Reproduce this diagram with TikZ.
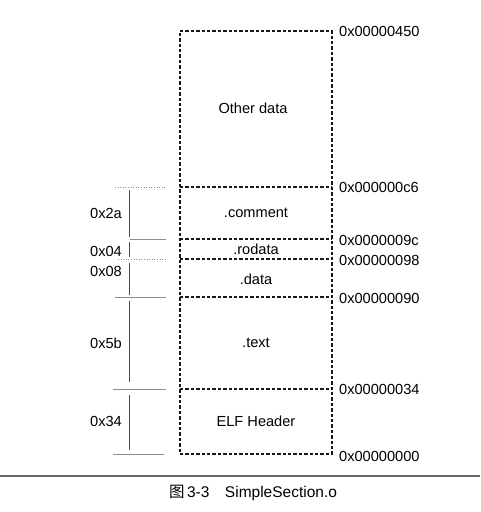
\documentclass[tikz,border=0pt]{standalone}
\usepackage{fontspec}
\setmainfont{Liberation Sans}
\newfontfamily\cjk{Noto Sans CJK SC}
\usepackage{tikz}
\usetikzlibrary{positioning}
\tikzset{
  % --- section contents and labels -------------------------------------------
  sec/.style={font=\fontsize{14.6}{16}\selectfont,inner sep=0pt},
  addr/.style={anchor=west,font=\fontsize{14.6}{16}\selectfont,inner sep=0pt},
  size/.style={anchor=east,font=\fontsize{14.6}{16}\selectfont,inner sep=0pt},
  % --- lines -----------------------------------------------------------------
  sep/.style={dashed,dash pattern=on 3.4pt off 2pt,line width=1.1pt,black!90},
  tick/.style={black!45,line width=0.6pt},
  span/.style={black!70,line width=0.6pt},
}

\begin{document}
\begin{tikzpicture}[x=1pt,y=-1pt]
  \useasboundingbox (0,0) rectangle (480,512);

  % address levels of the file
  \coordinate (t450) at (180,31);   \coordinate (r450) at (332,31);
  \coordinate (tc6)  at (180,187);  \coordinate (rc6)  at (332,187);
  \coordinate (t9c)  at (180,239);  \coordinate (r9c)  at (332,239);
  \coordinate (t98)  at (180,259);  \coordinate (r98)  at (332,259);
  \coordinate (t90)  at (180,297);  \coordinate (r90)  at (332,297);
  \coordinate (t34)  at (180,389);  \coordinate (r34)  at (332,389);
  \coordinate (t00)  at (180,454);  \coordinate (r00)  at (332,454);

  \draw[sep] (t450) -- (r450) -- (r00) -- (t00) -- cycle;
  \draw[sep] (tc6) -- (rc6);
  \draw[sep] (t9c) -- (r9c);
  \draw[sep] (t98) -- (r98);
  \draw[sep] (t90) -- (r90);
  \draw[sep] (t34) -- (r34);

  \node[sec] (other)   at (253,108) {Other data};
  \node[sec] (comment) at (256,213) {.comment};
  \node[sec] (rodata)  at (256,249) {.rodata};
  \node[sec] (data)    at (256,279) {.data};
  \node[sec] (text)    at (256,343) {.text};
  \node[sec] (elf)     at (256,421) {ELF Header};

  \node[addr] (a450) at (339,31)  {0x00000450};
  \node[addr] (ac6)  at (339,187) {0x000000c6};
  \node[addr] (a9c)  at (339,240) {0x0000009c};
  \node[addr] (a98)  at (339,260) {0x00000098};
  \node[addr] (a90)  at (339,298) {0x00000090};
  \node[addr] (a34)  at (339,389) {0x00000034};
  \node[addr] (a00)  at (339,456) {0x00000000};

  % sizes on the left
  \coordinate (kc6a) at (115,187); \coordinate (kc6b) at (166,187);
  \coordinate (k9ca) at (130,239); \coordinate (k9cb) at (166,239);
  \coordinate (k98a) at (118,259); \coordinate (k98b) at (166,259);
  \coordinate (k90a) at (115,297); \coordinate (k90b) at (166,297);
  \coordinate (k34a) at (113,389); \coordinate (k34b) at (166,389);
  \coordinate (k00a) at (113,454); \coordinate (k00b) at (164,454);
  \draw[tick,dotted] (kc6a) -- (kc6b);
  \draw[tick] (k9ca) -- (k9cb);
  \draw[tick,dotted] (k98a) -- (k98b);
  \draw[tick] (k90a) -- (k90b);
  \draw[tick] (k34a) -- (k34b);
  \draw[tick] (k00a) -- (k00b);

  \coordinate (v1a) at (129,190); \coordinate (v1b) at (129,237);
  \coordinate (v2a) at (129,242); \coordinate (v2b) at (129,257);
  \coordinate (v3a) at (129,263); \coordinate (v3b) at (129,295);
  \coordinate (v4a) at (129,301); \coordinate (v4b) at (129,382);
  \coordinate (v5a) at (129,395); \coordinate (v5b) at (129,450);
  \draw[span] (v1a) -- (v1b);
  \draw[span] (v2a) -- (v2b);
  \draw[span] (v3a) -- (v3b);
  \draw[span] (v4a) -- (v4b);
  \draw[span] (v5a) -- (v5b);

  \node[size] (s2a) at (122,213) {0x2a};
  \node[size] (s04) at (122,251) {0x04};
  \node[size] (s08) at (122,271) {0x08};
  \node[size] (s5b) at (122,343) {0x5b};
  \node[size] (s34) at (122,421) {0x34};

  % caption
  \coordinate (ruleL) at (0,476);
  \coordinate (ruleR) at (480,476);
  \draw[black!60,line width=1.6pt] (ruleL) -- (ruleR);
  \node[font=\fontsize{15.5}{17}\selectfont,inner sep=0pt] (cap) at (253,493)
    {{\cjk 图}\,3-3\hspace{1em}SimpleSection.o};
\end{tikzpicture}
\end{document}
